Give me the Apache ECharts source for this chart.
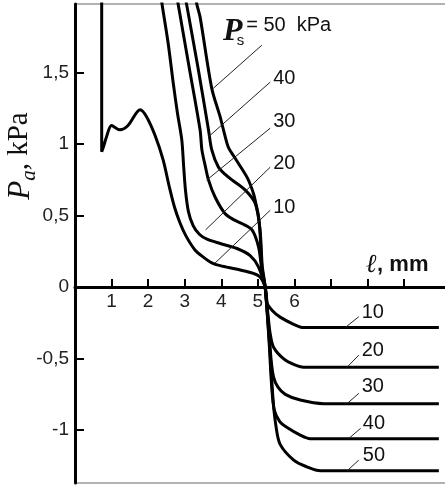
<!DOCTYPE html>
<html>
<head>
<meta charset="utf-8">
<script src="https://cdn.jsdelivr.net/npm/echarts@6/dist/echarts.min.js"></script>
<style>
html,body{margin:0;padding:0;background:#fff;}
#chart{width:445px;height:487px;}
</style>
</head>
<body>
<div id="chart"></div>
<script>
// suction pressure of each curve, kPa
var pressures = [10, 20, 30, 40, 50];

// [l mm, Pa kPa]
var curve10 = [[0.73,2.3],[0.73,0.946],[0.79,0.99],[0.86,1.05],[1.0,1.13],[1.23,1.10],[1.45,1.13],[1.78,1.24],[1.96,1.19],[2.19,1.06],[2.41,0.89],[2.58,0.70],[2.72,0.56],[2.87,0.45],[3.03,0.36],[3.28,0.26],[3.51,0.21],[3.74,0.17],[3.97,0.15],[4.52,0.12],[5.02,0.08],[5.2,0],
  [5.25,-0.11],[5.4,-0.165],[5.61,-0.21],[5.98,-0.26],[6.25,-0.283],[9.95,-0.283]];
var curve20 = [[2.26,2.2],[2.38,1.98],[2.55,1.70],[2.69,1.42],[2.80,1.22],[2.92,1.03],[2.97,0.85],[3.02,0.68],[3.10,0.53],[3.23,0.43],[3.4,0.37],[3.61,0.335],[3.97,0.305],[4.43,0.27],[4.79,0.22],[5.02,0.14],[5.2,0],
  [5.28,-0.2],[5.34,-0.33],[5.43,-0.42],[5.70,-0.50],[5.98,-0.54],[6.25,-0.56],[9.95,-0.56]];
var curve30 = [[2.67,2.2],[2.82,1.98],[3.12,1.54],[3.42,1.10],[3.47,0.96],[3.56,0.85],[3.65,0.75],[3.83,0.63],[4.10,0.515],[4.35,0.47],[4.56,0.445],[4.84,0.40],[5.02,0.28],[5.11,0.12],[5.2,0],
  [5.3,-0.3],[5.36,-0.5],[5.43,-0.63],[5.55,-0.70],[5.75,-0.75],[6.16,-0.79],[6.8,-0.815],[9.95,-0.815]];
var curve40 = [[2.9,2.2],[3.05,1.98],[3.36,1.54],[3.65,1.10],[3.74,0.96],[3.92,0.84],[4.10,0.79],[4.29,0.75],[4.65,0.68],[4.93,0.585],[5.06,0.40],[5.12,0.15],[5.2,0],
  [5.3,-0.35],[5.38,-0.7],[5.45,-0.86],[5.6,-0.94],[5.79,-0.98],[6.16,-1.035],[6.43,-1.06],[9.95,-1.06]];
var curve50 = [[3.18,2.2],[3.33,1.98],[3.42,1.89],[3.74,1.39],[3.97,1.19],[4.06,1.10],[4.19,0.98],[4.33,0.92],[4.47,0.865],[4.72,0.76],[4.88,0.655],[4.95,0.58],[5.02,0.49],[5.06,0.38],[5.11,0.14],[5.2,0],
  [5.32,-0.4],[5.42,-0.8],[5.5,-0.98],[5.61,-1.1],[5.98,-1.21],[6.34,-1.257],[6.71,-1.285],[9.95,-1.285]];
var curves = [curve10, curve20, curve30, curve40, curve50];

var xTicks = [1, 2, 3, 4, 5, 6, 7, 8, 9];
var xTickLabels = [1, 2, 3, 4, 5, 6];
var yTicks = [-1, -0.5, 0, 0.5, 1, 1.5];

// leader lines: label end -> curve end, one pair per curve
var leadersTop = [[[5.34,0.538],[3.83,0.168]], [[5.34,0.839],[3.57,0.40]], [[5.34,1.112],[3.60,0.748]], [[5.34,1.434],[3.64,1.049]], [[5.11,1.692],[3.78,1.39]]];
var leadersBottom = [[[7.76,-0.207],[7.39,-0.283]], [[7.76,-0.476],[7.44,-0.56]], [[7.76,-0.743],[7.44,-0.815]], [[7.81,-0.988],[7.48,-1.06]], [[7.76,-1.21],[7.44,-1.285]]];

var yMin = -1.37, yMax = 1.98;
var gridTop = 4, gridBottom = 4, chartH = 487;
// move the bottom x axis (line, ticks, labels) up to y = 0
var zeroOffset = -(0 - yMin) / (yMax - yMin) * (chartH - gridTop - gridBottom);

var chart = echarts.init(document.getElementById('chart'));

var series = curves.map(function (c, i) {
  return {
    type: 'line',
    name: pressures[i] + ' kPa',
    data: c,
    showSymbol: false,
    smooth: 0.3,
    clip: true,
    silent: true,
    lineStyle: {color: '#000', width: 3},
    markLine: {
      silent: true,
      symbol: 'none',
      label: {show: false},
      lineStyle: {color: '#222', width: 1, type: 'solid'},
      data: [
        [{coord: leadersTop[i][0]}, {coord: leadersTop[i][1]}],
        [{coord: leadersBottom[i][0]}, {coord: leadersBottom[i][1]}]
      ]
    }
  };
});

var tickFont = {fontSize: 19, color: '#222', fontFamily: 'Liberation Sans'};

chart.setOption({
  animation: false,
  backgroundColor: '#fff',
  grid: {left: 75, right: -3, top: gridTop, bottom: gridBottom, show: true, borderColor: '#666', borderWidth: 1, outerBoundsMode: 'none'},
  xAxis: {
    type: 'value', min: 0, max: 10.2, position: 'bottom', offset: zeroOffset,
    axisLine: {onZero: false, lineStyle: {color: '#000', width: 3}},
    axisTick: {inside: true, length: 8, customValues: xTicks, lineStyle: {color: '#000', width: 2}},
    axisLabel: Object.assign({customValues: xTickLabels, margin: 5}, tickFont),
    splitLine: {show: false}
  },
  yAxis: {
    type: 'value', min: yMin, max: yMax,
    axisLine: {show: true, onZero: false, lineStyle: {color: '#000', width: 3}},
    axisTick: {show: true, inside: true, length: 9, customValues: yTicks, lineStyle: {color: '#000', width: 2}},
    axisLabel: Object.assign({
      customValues: yTicks, margin: 6,
      formatter: function (v) { return String(v).replace('.', ','); }
    }, tickFont),
    splitLine: {show: false}
  },
  series: series
});

// text labels next to the leader lines
var topLabels = [['10', [5.42, 0.56]], ['20', [5.42, 0.867]], ['30', [5.42, 1.157]], ['40', [5.42, 1.46]]];
var bottomLabels = [['10', [7.84, -0.18]], ['20', [7.84, -0.44]], ['30', [7.84, -0.697]], ['40', [7.87, -0.953]], ['50', [7.87, -1.18]]];

var graphics = [];
topLabels.concat(bottomLabels).forEach(function (l) {
  var p = chart.convertToPixel({gridIndex: 0}, l[1]);
  graphics.push({
    type: 'text', x: p[0], y: p[1], silent: true,
    style: {text: l[0], font: '20px "Liberation Sans"', fill: '#111', align: 'left', verticalAlign: 'middle'}
  });
});

var tp = chart.convertToPixel({gridIndex: 0}, [4.05, 1.78]);
graphics.push({
  type: 'text', x: tp[0], y: tp[1], silent: true,
  style: {
    text: '{p|P}{s|s}{t|= 50  kPa}', align: 'left', verticalAlign: 'middle',
    rich: {
      p: {font: 'italic bold 32px "Liberation Serif"', fill: '#111', lineHeight: 34, verticalAlign: 'top'},
      s: {font: '15px "Liberation Sans"', fill: '#111', lineHeight: 16, padding: [18, 2, 0, -6], verticalAlign: 'top'},
      t: {font: '20px "Liberation Sans"', fill: '#111', lineHeight: 34, verticalAlign: 'top'}
    }
  }
});

// axis names
graphics.push({
  type: 'text', x: 22, y: 156, rotation: Math.PI / 2, silent: true,
  style: {
    text: '{p|P}{a|a}{t|, kPa}', align: 'center', verticalAlign: 'middle',
    rich: {
      p: {font: 'italic 31px "Liberation Serif"', fill: '#111', lineHeight: 34, verticalAlign: 'top'},
      a: {font: 'italic 21px "Liberation Serif"', fill: '#111', lineHeight: 20, padding: [14, 0, 0, 0], verticalAlign: 'top'},
      t: {font: '29px "Liberation Serif"', fill: '#111', lineHeight: 34, verticalAlign: 'top'}
    }
  }
});
graphics.push({
  type: 'text', x: 366, y: 265, silent: true,
  style: {
    text: '{l|ℓ}{t|, mm}', align: 'left', verticalAlign: 'middle',
    rich: {
      l: {font: 'italic bold 26px "DejaVu Serif"', fill: '#111'},
      t: {font: 'bold 22px "Liberation Sans"', fill: '#111'}
    }
  }
});

chart.setOption({graphic: graphics});
</script>
</body>
</html>
